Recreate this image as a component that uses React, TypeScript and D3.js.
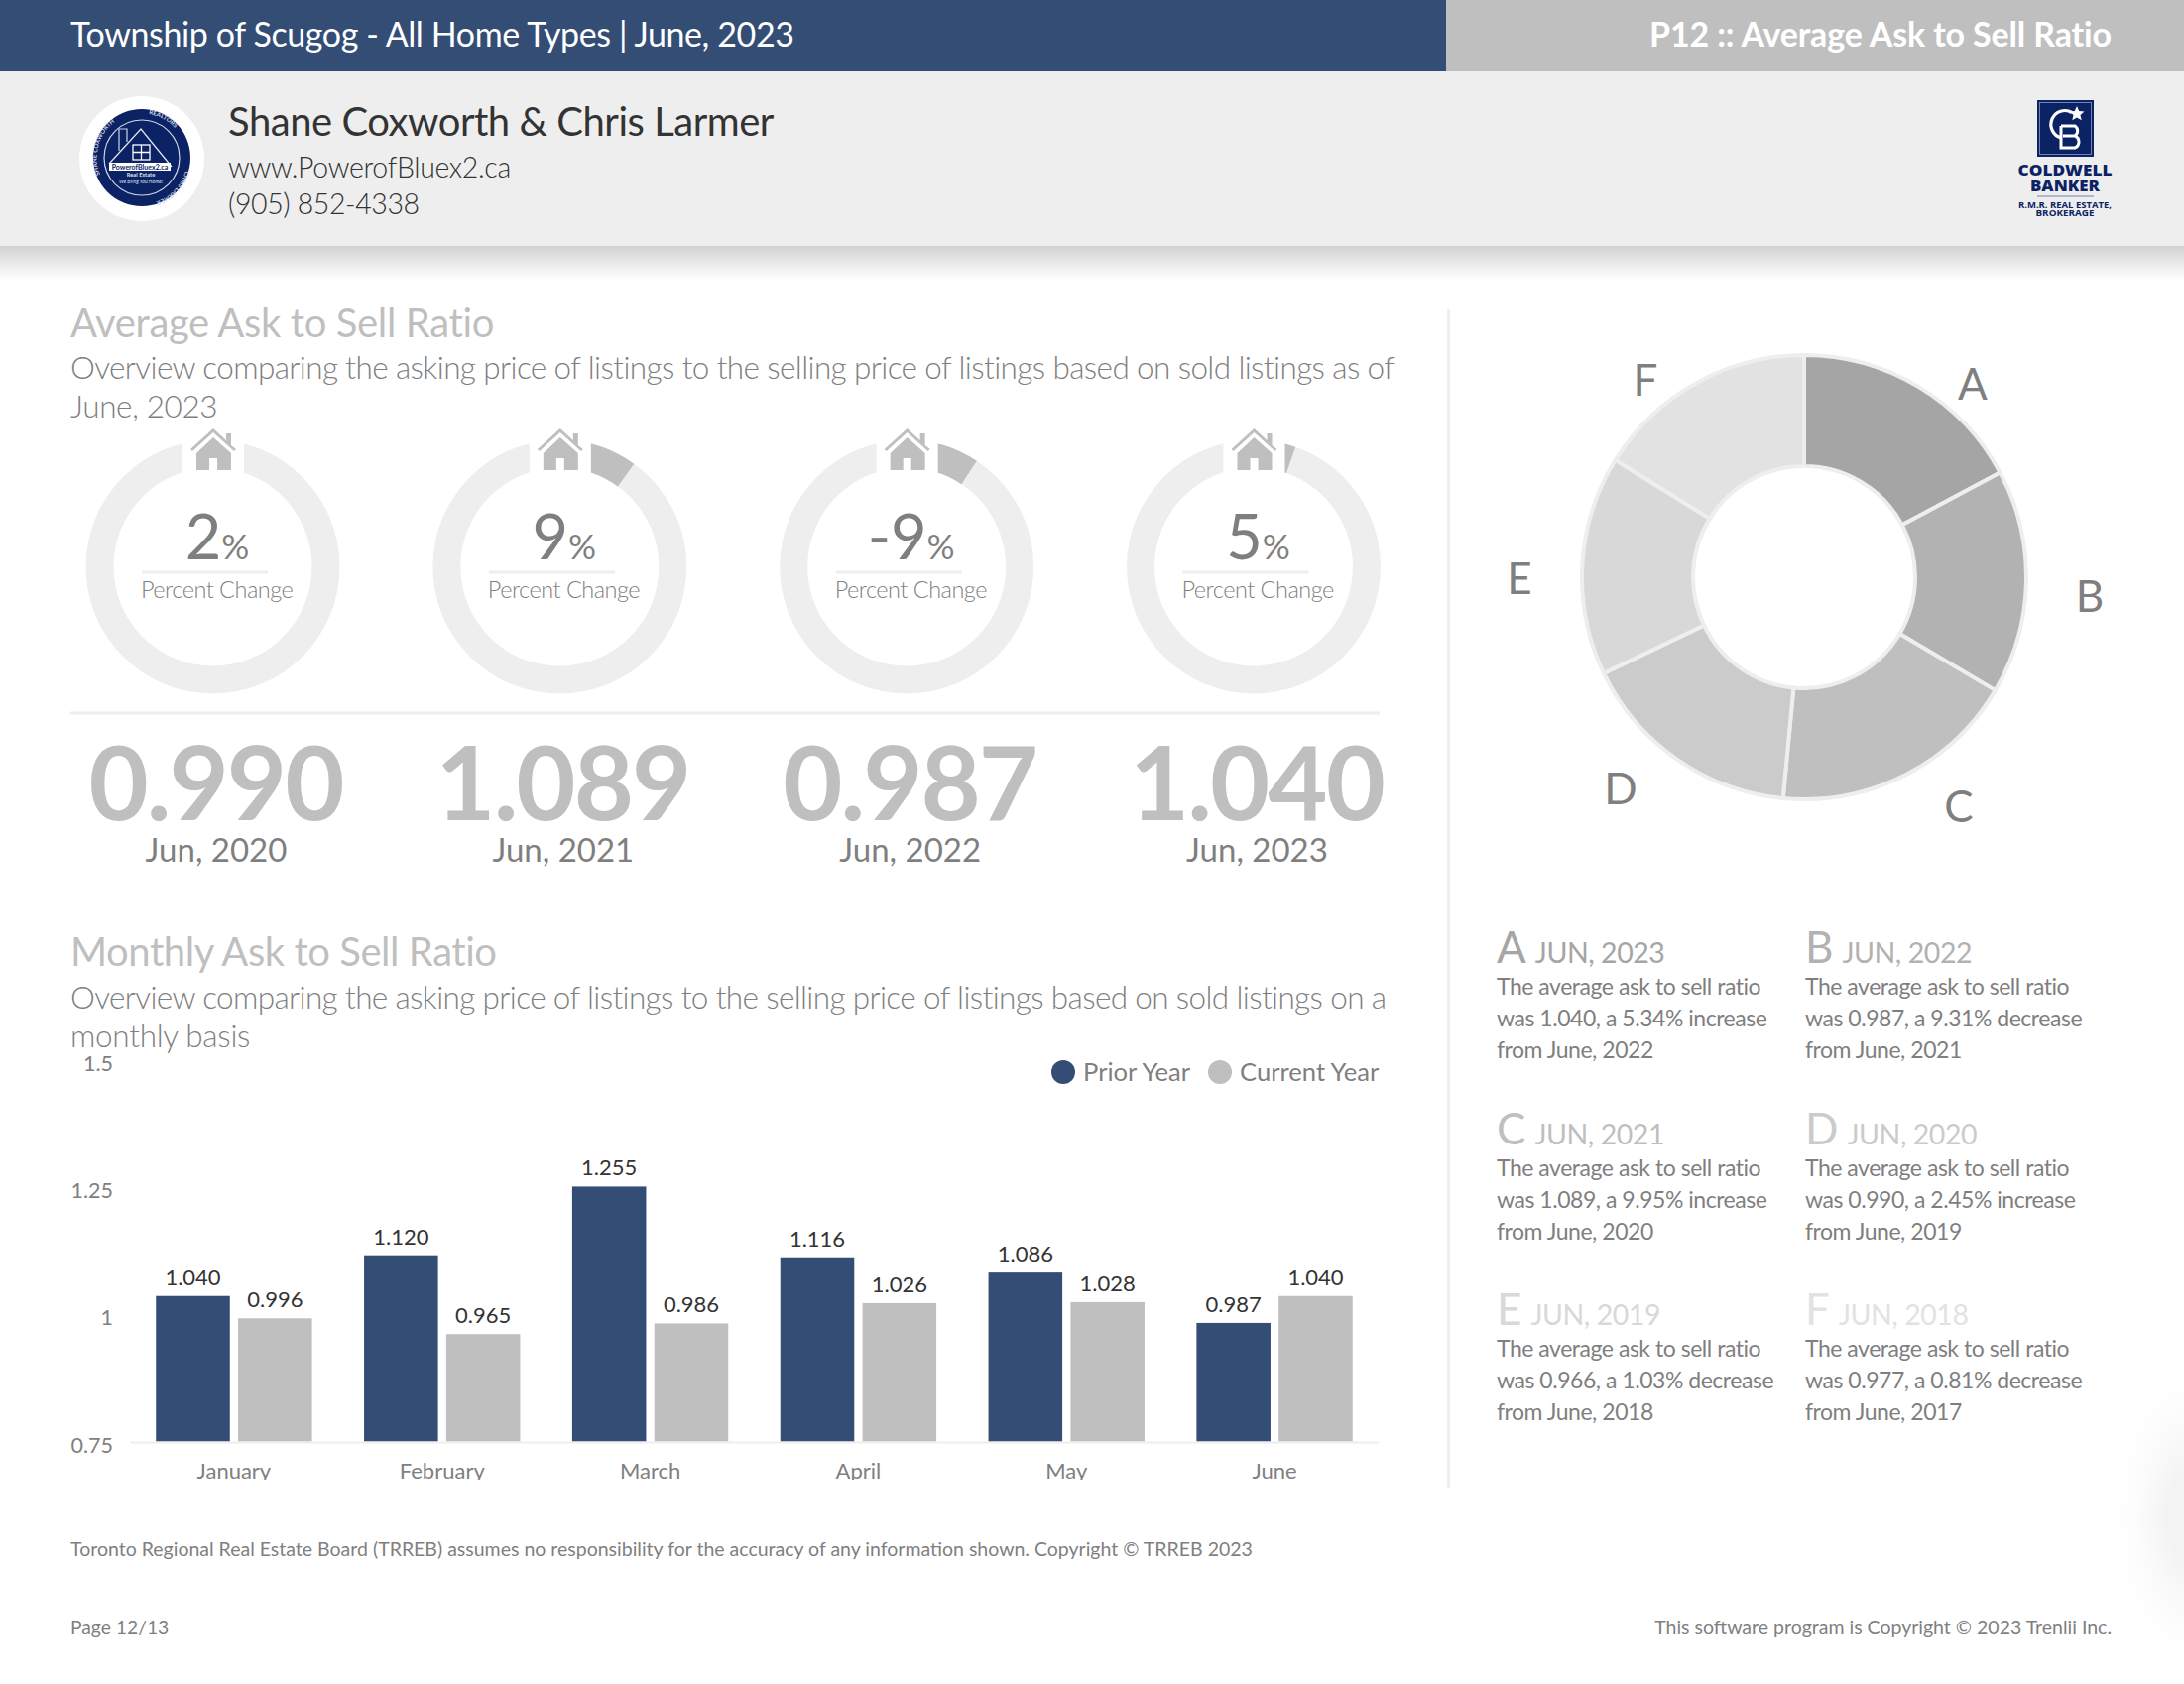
import React from "react";
import * as d3 from "d3";

const NAVY = "#334d75";
const GREY = "#bfbfbf";
const TXT = "#7f7f7f";
const LINE = "#eeeeee";
const LOGO = "#0b2265";

// Data
const years = ["Jun, 2020", "Jun, 2021", "Jun, 2022", "Jun, 2023"];
const yearValues = ["0.990", "1.089", "0.987", "1.040"];
const pctLabels = ["2", "9", "-9", "5"];
const pctValues = [2.45, 9.95, 9.31, 5.34];

const months = ["January", "February", "March", "April", "May", "June"];
const priorYear = [1.04, 1.12, 1.255, 1.116, 1.086, 0.987];
const currentYear = [0.996, 0.965, 0.986, 1.026, 1.028, 1.04];
const yTicks = [0.75, 1, 1.25, 1.5];

const sliceNames = ["A", "B", "C", "D", "E", "F"];
const sliceValues = [1.04, 0.987, 1.089, 0.99, 0.966, 0.977];
const sliceColors = ["#a5a5a5", "#b2b2b2", "#bfbfbf", "#cbcbcb", "#d8d8d8", "#e2e2e2"];
const sliceLabelX = [1989, 2107, 1975, 1634, 1532, 1659];
const sliceLabelY = [387, 601, 813, 795, 583, 383];
const noteDates = ["JUN, 2023", "JUN, 2022", "JUN, 2021", "JUN, 2020", "JUN, 2019", "JUN, 2018"];
const noteLines2 = [
  "was 1.040, a 5.34% increase",
  "was 0.987, a 9.31% decrease",
  "was 1.089, a 9.95% increase",
  "was 0.990, a 2.45% increase",
  "was 0.966, a 1.03% decrease",
  "was 0.977, a 0.81% decrease",
];
const noteLines3 = [
  "from June, 2022",
  "from June, 2021",
  "from June, 2020",
  "from June, 2019",
  "from June, 2018",
  "from June, 2017",
];

const y = d3.scaleLinear().domain([0.75, 1.5]).range([1455.5, 1070.75]);
const xOuter = d3.scaleBand<string>().domain(months).range([131, 1390]).paddingInner(0.25).paddingOuter(0.125);
const xInner = d3.scaleBand<string>().domain(["p", "c"]).range([0, xOuter.bandwidth()]).paddingInner(0.1);
const gaugeX = d3.scaleLinear().domain([0, 3]).range([214.5, 1264]);

const gaugeRing = d3.arc<any>().innerRadius(100).outerRadius(128);
const pieGen = d3.pie<number>().sort(null);
const donutArc = d3.arc<any>().innerRadius(112).outerRadius(224);

function House({ cx }: { cx: number }) {
  return (
    <g transform={`translate(${cx},0)`} fill={GREY}>
      <rect x={-31} y={430} width={62} height={52} fill="#fff" />
      <path d="M-23,453 L0,432 L13,444 V437 H18 V449 L23,453 L21,455 L0,436 L-21,455 Z" />
      <path fillRule="evenodd" d="M0,441 L18,457 V474 H-17 V457 Z M-4,462 V474 H4 V462 Z" />
    </g>
  );
}

function Gauge({ i }: { i: number }) {
  const cx = gaugeX(i);
  const cy = 571.5;
  const end = (pctValues[i] / 100) * 2 * Math.PI;
  const t = pctLabels[i];
  return (
    <g>
      <g transform={`translate(${cx},${cy})`}>
        <path d={gaugeRing({ startAngle: 0, endAngle: 2 * Math.PI }) || ""} fill={LINE} />
        <path d={gaugeRing({ startAngle: 0, endAngle: end }) || ""} fill={GREY} />
      </g>
      <House cx={cx + 0.5} />
      <text x={cx + 4.5} y={564} textAnchor="middle" fill={TXT} fontWeight={400}>
        <tspan fontSize={63}>{t}</tspan>
        <tspan fontSize={35}>%</tspan>
      </text>
      <rect x={cx - 71.5} y={575.5} width={127} height={3} fill={LINE} />
      <text x={cx - 72.5} y={603} fontSize={23.5} fontWeight={300} fill={TXT} letterSpacing={-0.5}>Percent Change</text>
      <text x={cx + 3} y={827} textAnchor="middle" fontSize={104} fontWeight={700} fill={GREY} letterSpacing={-2}>{yearValues[i]}</text>
      <text x={cx + 3.5} y={869} textAnchor="middle" fontSize={33} fontWeight={400} fill={TXT}>{years[i]}</text>
    </g>
  );
}

function Bars() {
  return (
    <g>
      {yTicks.map((t) => (
        <text key={t} x={114} y={y(t) + 9} textAnchor="end" fontSize={21.5} fill={TXT}>{String(t)}</text>
      ))}
      {months.map((m, i) => {
        const x0 = xOuter(m) as number;
        const xp = x0 + (xInner("p") as number);
        const xc = x0 + (xInner("c") as number);
        const w = xInner.bandwidth();
        return (
          <g key={m}>
            <rect x={xp} y={y(priorYear[i])} width={w} height={y(0.75) - y(priorYear[i])} fill={NAVY} />
            <rect x={xc} y={y(currentYear[i])} width={w} height={y(0.75) - y(currentYear[i])} fill={GREY} />
            <text x={xp + w / 2} y={y(priorYear[i]) - 11} textAnchor="middle" fontSize={22} fill="#333333">{priorYear[i].toFixed(3)}</text>
            <text x={xc + w / 2} y={y(currentYear[i]) - 11} textAnchor="middle" fontSize={22} fill="#333333">{currentYear[i].toFixed(3)}</text>
            <g clipPath="url(#axisClip)">
              <text x={x0 + xOuter.bandwidth() / 2} y={1490.5} textAnchor="middle" fontSize={22} fill={TXT}>{m}</text>
            </g>
          </g>
        );
      })}
      <rect x={131} y={1453.5} width={1259} height={4} fill="#fff" />
      <rect x={131} y={1453.5} width={1259} height={2} fill={LINE} />
      <circle cx={1072} cy={1081} r={12} fill={NAVY} />
      <text x={1092} y={1089.5} fontSize={25.6} fill={TXT}>Prior Year</text>
      <circle cx={1230} cy={1081} r={12} fill={GREY} />
      <text x={1250} y={1089.5} fontSize={25.6} fill={TXT}>Current Year</text>
    </g>
  );
}

function Donut() {
  const arcs = pieGen(sliceValues);
  return (
    <g>
      <g transform="translate(1819,582)">
        {arcs.map((a, i) => (
          <path key={i} d={donutArc(a as any) || ""} fill={sliceColors[i]} stroke={LINE} strokeWidth={4} />
        ))}
      </g>
      {sliceNames.map((n, i) => (
        <text key={n} x={sliceLabelX[i]} y={sliceLabelY[i] + 16} textAnchor="middle" fontSize={44} fill={TXT}>{n}</text>
      ))}
    </g>
  );
}

function Notes() {
  return (
    <g>
      {sliceNames.map((n, i) => {
        const col = i % 2;
        const row = Math.floor(i / 2);
        const x = col === 0 ? 1509 : 1820;
        const y0 = 971 + row * 182.5;
        return (
          <g key={n}>
            <text x={x} y={y0} fill={sliceColors[i]}>
              <tspan fontSize={44}>{n}</tspan>
              <tspan fontSize={28.5} dx={9} letterSpacing={-0.45}>{noteDates[i]}</tspan>
            </text>
            <g fontSize={23} fill={TXT} letterSpacing={-0.47}>
              <text x={x} y={y0 + 32}>The average ask to sell ratio</text>
              <text x={x} y={y0 + 64}>{noteLines2[i]}</text>
              <text x={x} y={y0 + 96}>{noteLines3[i]}</text>
            </g>
          </g>
        );
      })}
    </g>
  );
}

function LeftLogo() {
  return (
    <g>
      <circle cx={143} cy={160} r={63} fill="#fff" />
      <circle cx={143} cy={159} r={49} fill={LOGO} />
      <circle cx={143} cy={159} r={38} fill="none" stroke="#cfd6e6" strokeWidth={1.2} />
      <path id="logoArcL" d="M101,176 A45,45 0 0 1 143,114" fill="none" />
      <path id="logoArcR" d="M150,115 A45,45 0 0 1 187,150" fill="none" />
      <path id="logoArcB" d="M187,172 A46,46 0 0 1 150,205" fill="none" />
      <g fontSize={6.2} fontWeight={700} fill="#cfd6e6">
        <text><textPath href="#logoArcL">SHANE COXWORTH</textPath></text>
        <text><textPath href="#logoArcR">REALTORS</textPath></text>
        <text><textPath href="#logoArcB">CHRIS LARMER</textPath></text>
      </g>
      <path d="M110,165 L142,130 L173,168" fill="none" stroke="#dfe4ee" strokeWidth={1.3} />
      <path d="M120,152 V130 H128 V143" fill="none" stroke="#cfd6e6" strokeWidth={1.2} />
      <rect x={134} y={146} width={17} height={15} fill="none" stroke="#fff" strokeWidth={1.3} />
      <path d="M142.5,146 V161 M134,153.5 H151" stroke="#fff" strokeWidth={1.3} />
      <rect x={110} y={164} width={62} height={8} fill="#fff" />
      <text x={141} y={170.5} textAnchor="middle" fontSize={7} fontWeight={700} fill={LOGO}>PowerofBluex2.ca</text>
      <text x={142} y={178} textAnchor="middle" fontSize={5.8} fontWeight={700} fill="#dfe4ee">Real Estate</text>
      <text x={142} y={184.5} textAnchor="middle" fontSize={5.2} fontStyle="italic" fill="#dfe4ee">We Bring You Home!</text>
    </g>
  );
}

function RightLogo() {
  return (
    <g>
      <rect x={2054} y={101} width={57} height={57} fill={LOGO} />
      <rect x={2056.5} y={103.5} width={52} height={52} fill="none" stroke="#8d9cc0" strokeWidth={0.8} />
      <path d="M2089,113.5 A14,14 0 1 0 2078,139" fill="none" stroke="#fff" strokeWidth={3.2} />
      <path d="M2078,127 H2092 A6,6 0 0 1 2092,137 H2080 M2092,137 A6.5,6.5 0 0 1 2092,149 H2078 V127" fill="none" stroke="#fff" strokeWidth={3} />
      <path d="M2094,107 l2.2,5 5.3,.5 -4,3.5 1.2,5.2 -4.7,-2.7 -4.7,2.7 1.2,-5.2 -4,-3.5 5.3,-.5 Z" fill="#fff" />
      <g fontFamily="'Open Sans'" textAnchor="middle" fill={LOGO}>
        <text x={2082} y={177} fontSize={15.5} fontWeight={800} textLength={95} lengthAdjust="spacingAndGlyphs">COLDWELL</text>
        <text x={2082} y={193} fontSize={15.5} fontWeight={800} textLength={70} lengthAdjust="spacingAndGlyphs">BANKER</text>
        <text x={2082} y={210} fontSize={8} fontWeight={700} textLength={94} lengthAdjust="spacingAndGlyphs">R.M.R. REAL ESTATE,</text>
        <text x={2082} y={218} fontSize={8} fontWeight={700} textLength={59} lengthAdjust="spacingAndGlyphs">BROKERAGE</text>
      </g>
      <rect x={2054} y={197.5} width={57} height={1} fill="#6f82ad" />
    </g>
  );
}

export default function App() {
  return (
    <svg
      width={2202}
      height={1698}
      viewBox="0 0 2202 1698"
      style={{ position: "absolute", left: 0, top: 0, background: "#fff" }}
      fontFamily="Lato"
    >
      <defs>
        <linearGradient id="bandShadow" x1="0" y1="0" x2="0" y2="1">
          <stop offset="0" stopColor="#d2d2d2" />
          <stop offset="1" stopColor="#ffffff" />
        </linearGradient>
        <radialGradient id="cornerShadow">
          <stop offset="0.3" stopColor="#f3f3f3" />
          <stop offset="1" stopColor="#ffffff" stopOpacity={0} />
        </radialGradient>
        <clipPath id="axisClip">
          <rect x={0} y={1400} width={1458} height={92} />
        </clipPath>
      </defs>

      <ellipse cx={2212} cy={1530} rx={90} ry={165} fill="url(#cornerShadow)" />

      <rect x={0} y={0} width={1458} height={72} fill={NAVY} />
      <rect x={1458} y={0} width={744} height={72} fill={GREY} />
      <rect x={0} y={72} width={2202} height={176} fill={LINE} />
      <rect x={0} y={248} width={2202} height={34} fill="url(#bandShadow)" />

      <text x={71} y={47} fontSize={34} fontWeight={400} fill="#fff" letterSpacing={-0.39}>Township of Scugog - All Home Types | June, 2023</text>
      <text x={2129} y={47} textAnchor="end" fontSize={34} fontWeight={700} fill="#fff" letterSpacing={-0.14}>P12 :: Average Ask to Sell Ratio</text>

      <LeftLogo />
      <text x={230} y={137} fontSize={40} fontWeight={400} fill="#333333" letterSpacing={-0.47}>Shane Coxworth &amp; Chris Larmer</text>
      <text x={230} y={179} fontSize={28.5} fontWeight={300} fill="#333333" letterSpacing={-0.35}>www.PowerofBluex2.ca</text>
      <text x={230} y={215.5} fontSize={28.5} fontWeight={300} fill="#333333" letterSpacing={-0.4}>(905) 852-4338</text>
      <RightLogo />

      <text x={71} y={340} fontSize={40} fill={GREY} letterSpacing={-0.37}>Average Ask to Sell Ratio</text>
      <text x={71} y={382} fontSize={31.5} fontWeight={300} fill={TXT} letterSpacing={-0.62}>Overview comparing the asking price of listings to the selling price of listings based on sold listings as of</text>
      <text x={71} y={421} fontSize={31.5} fontWeight={300} fill={TXT} letterSpacing={-0.4}>June, 2023</text>

      {years.map((_, i) => <Gauge key={i} i={i} />)}
      <rect x={71} y={717.5} width={1320} height={3} fill={LINE} />

      <text x={71} y={974} fontSize={40} fill={GREY} letterSpacing={-0.45}>Monthly Ask to Sell Ratio</text>
      <text x={71} y={1017} fontSize={31.5} fontWeight={300} fill={TXT} letterSpacing={-0.64}>Overview comparing the asking price of listings to the selling price of listings based on sold listings on a</text>
      <text x={71} y={1056} fontSize={31.5} fontWeight={300} fill={TXT} letterSpacing={-0.3}>monthly basis</text>
      <Bars />

      <rect x={1459} y={312} width={3} height={1188} fill={LINE} />
      <Donut />
      <Notes />

      <text x={71} y={1568.5} fontSize={19.5} fill={TXT}>Toronto Regional Real Estate Board (TRREB) assumes no responsibility for the accuracy of any information shown. Copyright © TRREB 2023</text>
      <text x={71} y={1647.5} fontSize={19.3} fill={TXT}>Page 12/13</text>
      <text x={2129} y={1647.5} textAnchor="end" fontSize={19.5} fill={TXT}>This software program is Copyright © 2023 Trenlii Inc.</text>
    </svg>
  );
}
